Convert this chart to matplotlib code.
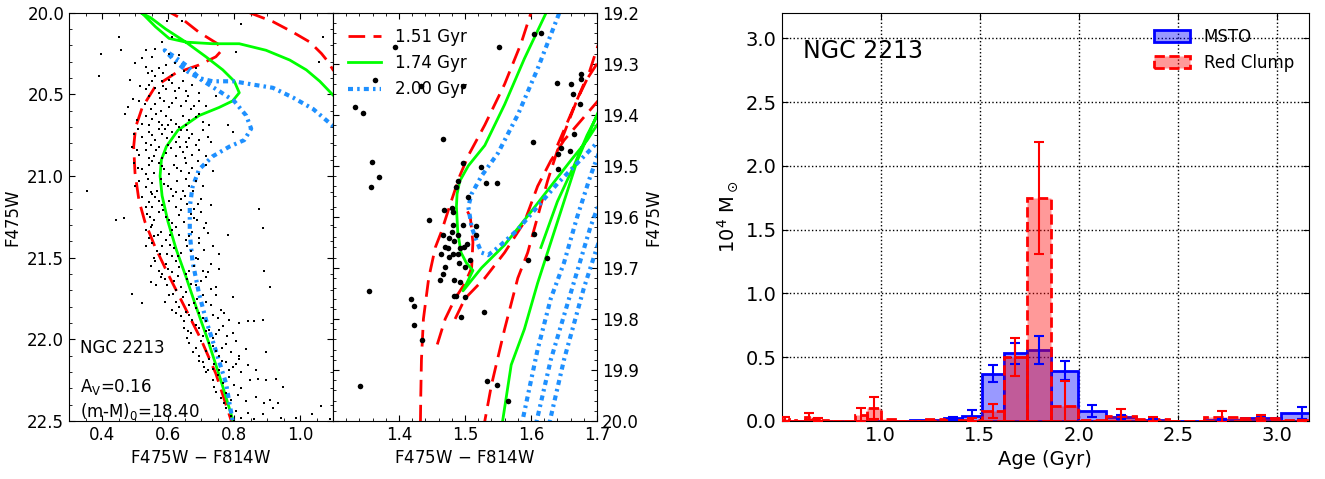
import numpy as np
import matplotlib
matplotlib.use("Agg")
import matplotlib.pyplot as plt
from matplotlib.ticker import MultipleLocator

plt.rcParams['font.family'] = ['DejaVu Sans']
plt.rcParams['mathtext.default'] = 'regular'

# ---- left panel: CMD stars (F475W-F814W, F475W) ----
cmd_color = [
    0.598, 0.642, 0.821,
    0.453, 0.583, 0.613, 1.070,
    0.398, 0.459, 0.532, 0.562, 0.552, 0.603, 0.633, 0.806, 1.058, 0.522,
    0.392, 0.552, 0.572, 0.593, 0.532, 0.613, 0.562, 0.649, 0.684,
    0.486, 0.552, 0.583, 0.613, 0.633, 0.562, 0.593, 0.654, 0.532, 0.674, 0.694, 0.572, 0.542,
    0.479, 0.512, 0.542, 0.562, 0.588, 0.603, 0.623, 0.639, 0.654, 0.669, 0.694, 0.715, 0.547, 0.578, 0.745,
    0.507, 0.532, 0.552, 0.572, 0.593, 0.608, 0.623, 0.644, 0.664, 0.684, 0.725, 0.542, 0.583, 0.781, 0.633, 0.705,
    0.496, 0.522, 0.542, 0.562, 0.583, 0.598, 0.613, 0.633, 0.654, 0.674, 0.694, 0.720, 0.532, 0.572, 0.796, 0.623, 0.659,
    0.491, 0.512, 0.532, 0.547, 0.557, 0.572, 0.593, 0.608, 0.623, 0.644, 0.659, 0.674, 0.694, 0.715, 0.730, 0.542, 0.583,
    0.496, 0.522, 0.542, 0.557, 0.572, 0.588, 0.603, 0.618, 0.639, 0.654, 0.674, 0.694, 0.715, 0.532, 0.735,
    0.354, 0.512, 0.532, 0.552, 0.567, 0.588, 0.608, 0.628, 0.644, 0.664, 0.684, 0.547, 0.705, 0.623,
    0.522, 0.542, 0.562, 0.583, 0.603, 0.623, 0.639, 0.659, 0.679, 0.700, 0.730, 0.532, 0.877,
    0.537, 0.557, 0.572, 0.593, 0.613, 0.633, 0.649, 0.669, 0.689, 0.715, 0.441, 0.466, 0.552, 0.887,
    0.532, 0.557, 0.578, 0.593, 0.613, 0.633, 0.654, 0.674, 0.694, 0.720, 0.781, 0.542,
    0.532, 0.567, 0.583, 0.598, 0.618, 0.639, 0.659, 0.684, 0.710, 0.735, 0.755, 0.557, 0.613,
    0.547, 0.572, 0.593, 0.613, 0.633, 0.654, 0.679, 0.705, 0.730, 0.755, 0.892, 0.583,
    0.547, 0.578, 0.598, 0.618, 0.639, 0.659, 0.684, 0.715, 0.745, 0.908, 0.623,
    0.491, 0.522, 0.603, 0.623, 0.644, 0.664, 0.689, 0.715, 0.745, 0.796, 0.633,
    0.613, 0.639, 0.654, 0.674, 0.694, 0.715, 0.735, 0.760, 0.786, 0.842, 0.649,
    0.649, 0.669, 0.684, 0.705, 0.725, 0.745, 0.766, 0.796, 0.816, 0.862, 0.887, 0.659,
    0.664, 0.684, 0.700, 0.715, 0.735, 0.755, 0.776, 0.806, 0.836, 0.897, 0.694, 0.816,
    0.694, 0.710, 0.725, 0.740, 0.755, 0.776, 0.796, 0.816, 0.842, 0.867, 0.720,
    0.715, 0.735, 0.750, 0.766, 0.786, 0.801, 0.821, 0.847, 0.872, 0.897, 0.928, 0.948, 0.740, 0.821,
    0.745, 0.760, 0.776, 0.791, 0.811, 0.837, 0.867, 0.892, 0.908, 0.933, 0.771,
    0.776, 0.791, 0.806, 0.821, 0.842, 0.862, 0.887, 0.918, 0.943, 0.989, 1.035, 1.065, 1.090, 0.801,
    0.500, 0.585, 0.620, 0.540,
    0.515, 0.603, 0.645, 0.585, 0.620,
    0.495, 0.530, 0.575, 0.612, 0.660, 0.680,
    0.470, 0.520, 0.565, 0.600, 0.655, 0.695,
    0.510, 0.550, 0.590, 0.640, 0.665, 0.705,
    0.505, 0.563, 0.600, 0.635, 0.685, 0.650,
    0.510, 0.550, 0.583, 0.628, 0.665, 0.690,
    0.500, 0.540, 0.578, 0.600, 0.655, 0.675,
    0.552, 0.572, 0.615, 0.650, 0.690, 0.550,
    0.545, 0.585, 0.603, 0.640, 0.680, 0.700,
    0.547, 0.570, 0.605, 0.625, 0.665, 0.710,
    0.550, 0.575, 0.605, 0.630, 0.670, 0.695,
    0.560, 0.600, 0.625, 0.665, 0.690, 0.720,
    0.565, 0.590, 0.630, 0.670, 0.700, 0.730,
    0.590, 0.615, 0.655, 0.680, 0.705, 0.730,
    0.625, 0.665, 0.685, 0.705, 0.750, 0.770,
    0.660, 0.695, 0.715, 0.735, 0.755, 0.780,
    0.675, 0.725, 0.745, 0.765, 0.790,
    0.705, 0.735, 0.765, 0.785, 0.806,
]
cmd_mag = [
    20.05, 20.05, 20.07,
    20.15, 20.18, 20.15, 20.15,
    20.25, 20.23, 20.23, 20.22, 20.27, 20.25, 20.26, 20.24, 20.30, 20.28,
    20.39, 20.36, 20.34, 20.32, 20.33, 20.38, 20.39, 20.36, 20.34,
    20.41, 20.42, 20.42, 20.43, 20.46, 20.46, 20.47, 20.48, 20.47, 20.44, 20.49, 20.49, 20.44,
    20.58, 20.54, 20.51, 20.56, 20.54, 20.58, 20.52, 20.57, 20.54, 20.59, 20.54, 20.57, 20.59, 20.60, 20.51,
    20.66, 20.63, 20.65, 20.67, 20.63, 20.66, 20.68, 20.63, 20.66, 20.64, 20.69, 20.69, 20.69, 20.69, 20.70, 20.67,
    20.74, 20.76, 20.73, 20.78, 20.74, 20.77, 20.73, 20.76, 20.79, 20.74, 20.78, 20.76, 20.80, 20.71, 20.73, 20.79, 20.72,
    20.82, 20.87, 20.84, 20.81, 20.88, 20.82, 20.86, 20.83, 20.88, 20.85, 20.82, 20.87, 20.84, 20.88, 20.79, 20.89, 20.89,
    20.92, 20.96, 20.93, 20.98, 20.92, 20.96, 20.99, 20.93, 20.97, 20.92, 20.95, 20.99, 20.93, 20.99, 20.97,
    21.09, 21.03, 21.07, 21.04, 21.09, 21.05, 21.08, 21.03, 21.09, 21.06, 21.03, 21.10, 21.06, 21.10,
    21.13, 21.16, 21.13, 21.18, 21.15, 21.19, 21.14, 21.17, 21.20, 21.14, 21.18, 21.19, 21.20,
    21.23, 21.27, 21.22, 21.25, 21.29, 21.24, 21.28, 21.23, 21.27, 21.29, 21.27, 21.26, 21.30, 21.32,
    21.33, 21.37, 21.34, 21.39, 21.33, 21.36, 21.39, 21.34, 21.38, 21.35, 21.36, 21.38,
    21.43, 21.46, 21.43, 21.48, 21.44, 21.47, 21.43, 21.50, 21.45, 21.43, 21.48, 21.50, 21.49,
    21.55, 21.58, 21.54, 21.59, 21.56, 21.60, 21.55, 21.58, 21.54, 21.57, 21.58, 21.60,
    21.65, 21.62, 21.67, 21.64, 21.68, 21.63, 21.67, 21.62, 21.68, 21.68, 21.70,
    21.72, 21.78, 21.73, 21.77, 21.74, 21.79, 21.75, 21.77, 21.73, 21.74, 21.80,
    21.82, 21.86, 21.83, 21.88, 21.84, 21.89, 21.85, 21.82, 21.88, 21.89, 21.89,
    21.93, 21.96, 21.91, 21.98, 21.94, 21.97, 21.92, 21.96, 21.90, 21.89, 21.88, 21.99,
    22.02, 22.05, 22.01, 22.07, 22.04, 22.10, 22.03, 22.01, 22.06, 22.08, 22.10, 22.10,
    22.13, 22.17, 22.12, 22.15, 22.19, 22.14, 22.17, 22.12, 22.16, 22.19, 22.19,
    22.20, 22.25, 22.22, 22.27, 22.23, 22.28, 22.20, 22.25, 22.24, 22.25, 22.24, 22.29, 22.29, 22.30,
    22.32, 22.36, 22.33, 22.37, 22.34, 22.38, 22.35, 22.39, 22.37, 22.39, 22.39,
    22.42, 22.47, 22.44, 22.48, 22.45, 22.49, 22.46, 22.42, 22.48, 22.48, 22.46, 22.41, 22.49, 22.50,
    20.31, 20.37, 20.31, 20.37,
    20.45, 20.41, 20.42, 20.45, 20.48,
    20.53, 20.56, 20.52, 20.55, 20.51, 20.57,
    20.62, 20.68, 20.62, 20.69, 20.69, 20.62,
    20.71, 20.75, 20.71, 20.72, 20.77, 20.72,
    20.84, 20.84, 20.81, 20.82, 20.81, 20.89,
    20.95, 20.91, 20.94, 20.95, 20.98, 20.91,
    21.06, 21.02, 21.02, 21.06, 21.02, 21.09,
    21.11, 21.15, 21.12, 21.12, 21.17, 21.19,
    21.25, 21.21, 21.27, 21.21, 21.26, 21.22,
    21.31, 21.36, 21.36, 21.31, 21.37, 21.32,
    21.41, 21.48, 21.42, 21.49, 21.46, 21.41,
    21.52, 21.57, 21.52, 21.58, 21.51, 21.59,
    21.67, 21.63, 21.61, 21.66, 21.64, 21.69,
    21.77, 21.72, 21.71, 21.78, 21.73, 21.79,
    21.84, 21.85, 21.81, 21.87, 21.87, 21.84,
    21.95, 21.93, 21.95, 21.99, 21.94, 21.98,
    22.08, 22.02, 22.07, 22.05, 22.08,
    22.14, 22.18, 22.13, 22.19, 22.15,
]

# ---- middle panel: red clump stars ----
rc_color = [1.604, 1.615, 1.394, 1.552, 1.364, 1.434, 1.497, 1.333, 1.345, 1.639,
            1.661, 1.676, 1.675, 1.663, 1.674, 1.467, 1.603, 1.665, 1.646, 1.659,
            1.641, 1.359, 1.370, 1.358, 1.497, 1.525, 1.489, 1.532, 1.548, 1.486,
            1.505, 1.468, 1.481, 1.482, 1.446, 1.482, 1.497, 1.516, 1.467, 1.476,
            1.516, 1.480, 1.489, 1.483, 1.470, 1.474, 1.493, 1.499, 1.503, 1.482,
            1.463, 1.489, 1.475, 1.491, 1.507, 1.470, 1.500, 1.466, 1.462, 1.484,
            1.492, 1.487, 1.500, 1.483, 1.494, 1.604, 1.595, 1.624, 1.355, 1.418,
            1.423, 1.423, 1.435, 1.529, 1.341, 1.534, 1.548, 1.565, 1.641]
rc_mag = [19.242, 19.239, 19.267, 19.267, 19.332, 19.344, 19.344, 19.384, 19.396, 19.337,
          19.340, 19.320, 19.329, 19.359, 19.378, 19.447, 19.454, 19.437, 19.466, 19.471,
          19.476, 19.493, 19.522, 19.542, 19.494, 19.502, 19.530, 19.533, 19.533, 19.541,
          19.562, 19.587, 19.582, 19.591, 19.607, 19.616, 19.616, 19.618, 19.636, 19.641,
          19.635, 19.629, 19.636, 19.648, 19.659, 19.662, 19.661, 19.659, 19.654, 19.672,
          19.673, 19.672, 19.678, 19.690, 19.685, 19.698, 19.698, 19.712, 19.723, 19.724,
          19.727, 19.756, 19.757, 19.755, 19.797, 19.633, 19.685, 19.680, 19.745, 19.761,
          19.775, 19.812, 19.842, 19.786, 19.932, 19.922, 19.930, 19.961, 19.507]

# ---- isochrones (NaN separates segments) ----
nan = np.nan
iso151_color = [0.800, 0.745, 0.700, 0.640, 0.600, 0.560, 0.530, 0.512, 0.500, 0.496,
                0.502, 0.522, 0.562, 0.623, 0.694, 0.745, 0.763, 0.750, 0.694, 0.644,
                0.608, 0.580, 0.700, 0.800, 0.847, 0.918, 0.979, 1.030, 1.065, 1.085,
                1.100, 1.200, 1.330, 1.420, 1.480, 1.515, 1.530, 1.540, 1.560, 1.580,
                1.595, 1.610, 1.625, 1.640, 1.655, 1.670, 1.685, 1.700, 1.720, nan,
                1.432, 1.433, 1.434, 1.437, 1.445, 1.455, 1.464, 1.479, 1.492, 1.505,
                1.530, 1.560, 1.585, 1.600, 1.610, nan,
                1.458, 1.470, 1.485, 1.500, 1.510, 1.512, 1.508, 1.500, nan,
                1.485, 1.500, 1.530, 1.560, 1.590, 1.610, 1.630, 1.650, 1.670, 1.690,
                1.710, nan,
                1.640, 1.660, 1.680, 1.700]
iso151_mag = [22.55, 22.21, 22.00, 21.76, 21.60, 21.43, 21.28, 21.15, 20.98, 20.82,
              20.70, 20.58, 20.45, 20.37, 20.32, 20.27, 20.23, 20.19, 20.12, 20.04,
              20.00, 19.95, 19.85, 19.93, 20.00, 20.055, 20.12, 20.18, 20.25, 20.30,
              20.35, 20.55, 20.65, 20.55, 20.35, 20.12, 20.00, 19.93, 19.82, 19.72,
              19.67, 19.60, 19.53, 19.47, 19.42, 19.37, 19.33, 19.27, 19.20, nan,
              20.05, 19.95, 19.88, 19.80, 19.72, 19.66, 19.63, 19.57, 19.52, 19.48,
              19.42, 19.34, 19.26, 19.20, 19.15, nan,
              19.85, 19.80, 19.76, 19.73, 19.70, 19.65, 19.60, 19.58, nan,
              19.80, 19.76, 19.72, 19.67, 19.61, 19.54, 19.49, 19.45, 19.42, 19.39,
              19.36, nan,
              19.46, 19.40, 19.34, 19.30]

iso174_color = [0.805, 0.760, 0.720, 0.685, 0.655, 0.625, 0.600, 0.582, 0.576, 0.580,
                0.595, 0.630, 0.694, 0.755, 0.796, 0.816, 0.801, 0.766, 0.715, 0.654,
                0.593, 0.547, 0.517, 0.490, 0.520, 0.562, 0.603, 0.654, 0.735, 0.816,
                0.897, 0.969, 1.019, 1.060, 1.098, 1.200, 1.350, 1.470, 1.530, 1.557,
                1.570, 1.590, 1.610, 1.630, 1.650, 1.670, 1.690, 1.710, nan,
                1.640, 1.623, 1.590, 1.560, 1.530, 1.505, 1.492, 1.488, 1.487, 1.489,
                1.494, 1.502, 1.512, 1.497, 1.525, 1.560, 1.600, 1.630, 1.660, 1.685,
                1.700, 1.720, nan,
                1.615, 1.640, 1.665, 1.685, 1.705]
iso174_mag = [22.55, 22.25, 22.00, 21.80, 21.62, 21.45, 21.28, 21.12, 21.00, 20.90,
              20.82, 20.72, 20.63, 20.58, 20.54, 20.49, 20.42, 20.35, 20.27, 20.18,
              20.10, 20.03, 20.00, 19.95, 20.00, 20.086, 20.157, 20.18, 20.19, 20.19,
              20.23, 20.29, 20.35, 20.42, 20.50, 20.70, 20.85, 20.60, 20.25, 20.00,
              19.89, 19.82, 19.73, 19.65, 19.57, 19.49, 19.43, 19.37, nan,
              19.15, 19.20, 19.29, 19.38, 19.46, 19.50, 19.53, 19.555, 19.58, 19.63,
              19.67, 19.69, 19.705, 19.745, 19.70, 19.655, 19.59, 19.54, 19.49, 19.45,
              19.42, 19.39, nan,
              19.66, 19.57, 19.50, 19.44, 19.39]

iso200_color = [0.800, 0.776, 0.745, 0.715, 0.694, 0.674, 0.666, 0.666, 0.674, 0.694,
                0.735, 0.786, 0.831, 0.852, 0.837, 0.800, 0.755, 0.700, 0.660, 0.620,
                0.590, 0.623, 0.659, 0.694, 0.735, 0.800, 0.857, 0.918, 0.979, 1.040,
                1.098, 1.200, 1.350, 1.500, 1.570, 1.587, 1.610, 1.630, 1.650, 1.670,
                1.690, 1.710, nan,
                1.660, 1.643, 1.610, 1.580, 1.550, 1.525, 1.510, 1.505, 1.510, 1.517,
                1.525, 1.535, 1.550, 1.580, 1.610, 1.640, 1.670, 1.700, 1.720, nan,
                1.605, 1.630, 1.660, 1.690, 1.710, nan,
                1.625, 1.650, 1.680, 1.710]
iso200_mag = [22.55, 22.27, 22.07, 21.88, 21.72, 21.52, 21.35, 21.19, 21.07, 20.96,
              20.88, 20.82, 20.78, 20.71, 20.63, 20.54, 20.48, 20.41, 20.33, 20.27,
              20.23, 20.30, 20.36, 20.40, 20.42, 20.42, 20.44, 20.46, 20.52, 20.59,
              20.69, 20.90, 21.00, 20.80, 20.30, 20.00, 19.86, 19.76, 19.69, 19.60,
              19.52, 19.45, nan,
              19.15, 19.20, 19.31, 19.40, 19.475, 19.52, 19.555, 19.58, 19.62, 19.645,
              19.67, 19.675, 19.66, 19.625, 19.58, 19.535, 19.495, 19.455, 19.43, nan,
              20.02, 19.88, 19.75, 19.62, 19.55, nan,
              20.02, 19.88, 19.74, 19.62]

iso_labels = ['1.51 Gyr', '1.74 Gyr', '2.00 Gyr']

# ---- right panel: mass vs age histogram ----
age_edges = [0.501, 0.537, 0.575, 0.617, 0.661, 0.708, 0.759, 0.813, 0.871, 0.933,
             1.000, 1.072, 1.148, 1.230, 1.318, 1.413, 1.514, 1.622, 1.738, 1.862,
             1.995, 2.138, 2.291, 2.455, 2.630, 2.818, 3.020, 3.236]
msto_mass = [0.0, 0.0, 0.0, 0.0, 0.0, 0.0, 0.0, 0.0, 0.0, 0.0,
             0.0, 0.0, 0.008, 0.005, 0.02, 0.04, 0.37, 0.53, 0.555, 0.395,
             0.08, 0.03, 0.01, 0.003, 0.008, 0.02, 0.06]
msto_err = [0.0, 0.0, 0.0, 0.0, 0.0, 0.0, 0.0, 0.0, 0.0, 0.0,
            0.0, 0.0, 0.0, 0.0, 0.015, 0.045, 0.067, 0.08, 0.11, 0.075,
            0.045, 0.018, 0.008, 0.0, 0.006, 0.02, 0.048]
rc_mass = [0.015, 0.005, 0.0, 0.035, 0.015, 0.005, 0.0, 0.0, 0.045, 0.10,
           0.012, 0.0, 0.003, 0.012, 0.005, 0.01, 0.08, 0.50, 1.75, 0.12,
           0.005, 0.04, 0.015, 0.003, 0.035, 0.025, 0.005]
rc_err = [0.015, 0.0, 0.0, 0.025, 0.012, 0.0, 0.0, 0.0, 0.055, 0.085,
          0.0, 0.0, 0.0, 0.0, 0.0, 0.01, 0.055, 0.15, 0.44, 0.19,
          0.0, 0.055, 0.015, 0.0, 0.045, 0.025, 0.005]

W, H = 1325, 479
fig = plt.figure(figsize=(W / 100, H / 100), dpi=100)

def px_axes(x0, x1, y0, y1):
    return fig.add_axes([x0 / W, 1 - y1 / H, (x1 - x0) / W, (y1 - y0) / H])

ax1 = px_axes(69, 333, 12.7, 421)
ax2 = px_axes(333, 597, 12.7, 421)
ax3 = px_axes(781.7, 1309, 12.7, 421)

red_ls = (0, (6, 3))
blue_ls = (0, (1.2, 1.0, 0.6, 1.0))
styles = [dict(color='r', lw=2, ls=red_ls),
          dict(color='lime', lw=2, ls='-'),
          dict(color='dodgerblue', lw=3, ls=blue_ls)]
isos = [(iso151_color, iso151_mag), (iso174_color, iso174_mag), (iso200_color, iso200_mag)]

for ax in (ax1, ax2):
    for (c, m), st, lab in zip(isos, styles, iso_labels):
        ax.plot(c, m, label=lab, **st)
    ax.tick_params(which='both', direction='in', top=True, right=True, labelsize=12)
    ax.tick_params(which='major', length=4)
    ax.tick_params(which='minor', length=2)

# left panel
ax1.plot(cmd_color, cmd_mag, 's', color='k', ms=2.0, mew=0, zorder=6)
ax1.set_xlim(0.3, 1.1)
ax1.set_ylim(22.5, 20.0)
ax1.set_xticks([0.4, 0.6, 0.8, 1.0])
ax1.xaxis.set_minor_locator(MultipleLocator(0.05))
ax1.set_yticks([20.0, 20.5, 21.0, 21.5, 22.0, 22.5])
ax1.yaxis.set_minor_locator(MultipleLocator(0.1))
ax1.set_xlabel('F475W $-$ F814W', fontsize=12)
ax1.set_ylabel('F475W', fontsize=12)
ax1.text(0.333, 22.05, 'NGC 2213', fontsize=12, va='center')
ax1.text(0.333, 22.29, 'A$_V$=0.16', fontsize=12, va='center')
ax1.text(0.333, 22.44, '(m-M)$_0$=18.40', fontsize=12, va='center')

# middle panel
ax2.plot(rc_color, rc_mag, 'o', color='k', ms=4, mew=0, zorder=6)
ax2.set_xlim(1.3, 1.7)
ax2.set_ylim(20.0, 19.2)
ax2.set_xticks([1.4, 1.5, 1.6, 1.7])
ax2.xaxis.set_minor_locator(MultipleLocator(0.02))
ax2.set_yticks([19.2, 19.3, 19.4, 19.5, 19.6, 19.7, 19.8, 19.9, 20.0])
ax2.yaxis.set_minor_locator(MultipleLocator(0.02))
ax2.tick_params(labelleft=False, labelright=True)
ax2.yaxis.set_label_position('right')
ax2.set_xlabel('F475W $-$ F814W', fontsize=12)
ax2.set_ylabel('F475W', fontsize=12)
ax2.legend(loc='upper left', frameon=False, fontsize=12, handlelength=2)

# right panel
edges = np.array(age_edges)
widths = np.diff(edges)
centers = 0.5 * (edges[:-1] + edges[1:])
ax3.bar(edges[:-1], msto_mass, width=widths, align='edge', facecolor=(0, 0, 1, 0.4),
        edgecolor='b', lw=2, label='MSTO', zorder=2)
ax3.bar(edges[:-1], rc_mass, width=widths, align='edge', facecolor=(1, 0, 0, 0.4),
        edgecolor='r', lw=2, ls='--', label='Red Clump', zorder=3)
me = np.array(msto_err)
re = np.array(rc_err)
ax3.errorbar(centers[me > 0], np.array(msto_mass)[me > 0], yerr=me[me > 0], fmt='none',
             ecolor='b', elinewidth=1.5, capsize=3.5, capthick=1.5, zorder=4)
ax3.errorbar(centers[re > 0], np.array(rc_mass)[re > 0], yerr=re[re > 0], fmt='none',
             ecolor='r', elinewidth=1.5, capsize=3.5, capthick=1.5, zorder=4)
ax3.set_xlim(0.501, 3.162)
ax3.set_ylim(0, 3.2)
ax3.set_xticks([1.0, 1.5, 2.0, 2.5, 3.0])
ax3.set_yticks([0.0, 0.5, 1.0, 1.5, 2.0, 2.5, 3.0])
ax3.set_axisbelow(True)
ax3.grid(True, ls=':', color='k', lw=1)
ax3.tick_params(direction='in', top=True, right=True, labelsize=14, length=4)
ax3.set_xlabel('Age (Gyr)', fontsize=14)
ax3.set_ylabel('10$^4$ M$_\\odot$', fontsize=14)
ax3.text(0.04, 0.905, 'NGC 2213', transform=ax3.transAxes, fontsize=17, va='center')
ax3.legend(loc='upper right', frameon=False, fontsize=12, handlelength=2.2)

fig.savefig('out.png', dpi=100)
